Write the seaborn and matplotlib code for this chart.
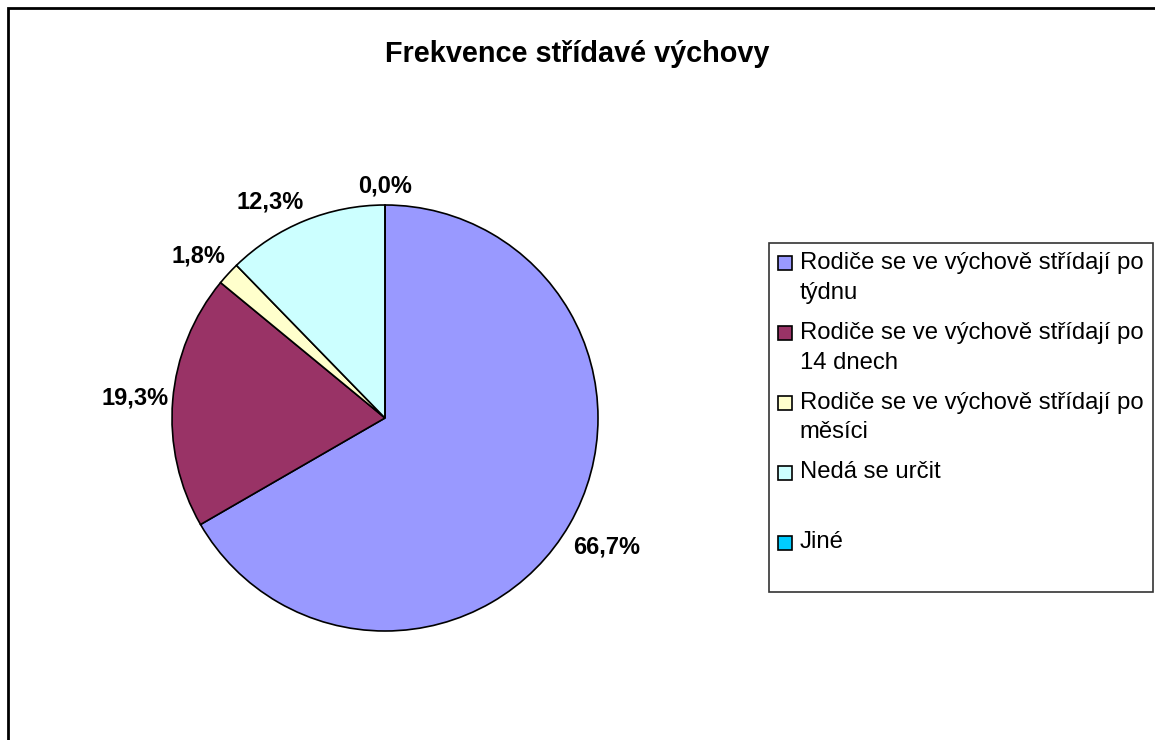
import matplotlib
matplotlib.use("Agg")
import numpy as np
import matplotlib.pyplot as plt
import seaborn as sns
from matplotlib.patches import Rectangle
from matplotlib.legend_handler import HandlerPatch

W, H = 1155, 740

TITLE = "Frekvence střídavé výchovy"
categories = [
    "Rodiče se ve výchově střídají po\ntýdnu",
    "Rodiče se ve výchově střídají po\n14 dnech",
    "Rodiče se ve výchově střídají po\nměsíci",
    "Nedá se určit\n",
    "Jiné\n",
]
# respondent counts (57 in total) -> 66,7 / 19,3 / 1,8 / 12,3 / 0,0 %
counts = [38, 11, 1, 7, 0]
colors = ["#9999FF", "#993366", "#FFFFCC", "#CCFFFF", "#00CCFF"]

sns.set_theme(style="white")
plt.rcParams["font.family"] = ["Liberation Sans", "DejaVu Sans"]
plt.rcParams["text.color"] = "black"

fig = plt.figure(figsize=(W / 100, H / 100), dpi=100)
fig.patch.set_facecolor("white")

# pie area: centre (385, 418), radius 213 px
ax = fig.add_axes([172 / W, (H - 631) / H, 426 / W, 426 / H])
wedges, texts, autotexts = ax.pie(
    counts,
    colors=colors,
    startangle=90,
    counterclock=False,
    autopct=lambda p: f"{p:.1f}%".replace(".", ","),
    pctdistance=1.2,
    wedgeprops=dict(edgecolor="black", linewidth=1.2),
    textprops=dict(fontsize=17, fontweight="bold", color="black"),
)
ax.set_xlim(-1, 1)
ax.set_ylim(-1, 1)
ax.set_aspect("equal")
ax.axis("off")

# put the percentage labels just outside the rim: the label box corner
# nearest the pie sits on the slice's mid ray, like Excel does
fig.canvas.draw()
renderer = fig.canvas.get_renderer()
px_per_unit = ax.transData.transform((1, 0))[0] - ax.transData.transform((0, 0))[0]
GAP = 4
for w, t in zip(wedges, autotexts):
    ang = np.deg2rad((w.theta1 + w.theta2) / 2)
    c, s = np.cos(ang), np.sin(ang)
    bb = t.get_window_extent(renderer)
    a = bb.width / 2
    b = bb.height * 0.78
    x = (px_per_unit + GAP) * c + a * np.clip(3 * c, -1, 1)
    y = (px_per_unit + GAP) * s + b * np.clip(3 * s, -1, 1)
    t.set_position((x / px_per_unit, y / px_per_unit))
    t.set_ha("center")
    t.set_va("center_baseline")

fig.text(577 / W, 1 - 62 / H, TITLE, ha="center", va="baseline",
         fontsize=20.8, fontweight="bold")


def square_patch(legend, orig_handle, xdescent, ydescent, width, height, fontsize):
    return Rectangle((-xdescent, -ydescent), width, width)


leg = fig.legend(
    wedges, categories,
    loc="upper left",
    bbox_to_anchor=(769 / W, 1 - 243 / H),
    fontsize=17.2,
    frameon=True,
    fancybox=False,
    shadow=False,
    handlelength=0.585,
    handleheight=0.8,
    handletextpad=0.33,
    borderpad=0.38,
    labelspacing=0.76,
    borderaxespad=0,
    handler_map={w: HandlerPatch(patch_func=square_patch) for w in wedges},
)
leg.get_frame().set_edgecolor("black")
leg.get_frame().set_linewidth(1.2)
for h in leg.legend_handles:
    h.set_edgecolor("black")
    h.set_linewidth(1.2)
for t in leg.get_texts():
    t.set_linespacing(1.45)
# square sits next to the first line of a wrapped label
for col in leg._legend_handle_box.get_children():
    for item in col.get_children():
        item.align = "top"

# outer chart border (right and bottom edges fall outside the picture)
fig.patches.append(Rectangle((8 / W, -0.05), 1.2, (H - 8) / H + 0.05,
                             transform=fig.transFigure, fill=False,
                             edgecolor="black", linewidth=2))

fig.savefig("out.png", dpi=100)
